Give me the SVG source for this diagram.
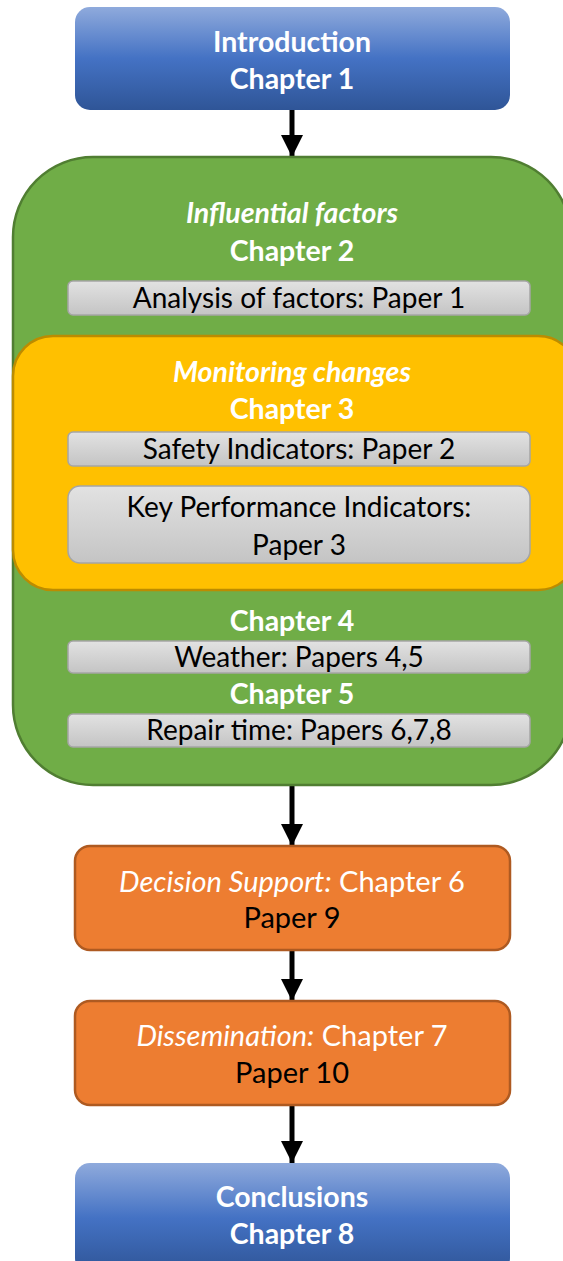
<svg xmlns="http://www.w3.org/2000/svg" width="563" height="1261" viewBox="0 0 563 1261">
  <defs>
    <linearGradient id="blueGrad" x1="0" y1="0" x2="0" y2="1">
      <stop offset="0" stop-color="#8faadc"/>
      <stop offset="0.5" stop-color="#4472c4"/>
      <stop offset="1" stop-color="#2f5597"/>
    </linearGradient>
    <linearGradient id="greyGrad" x1="0" y1="0" x2="0" y2="1">
      <stop offset="0" stop-color="#e2e2e2"/>
      <stop offset="1" stop-color="#c4c4c4"/>
    </linearGradient>
    <marker id="arrowHead" viewBox="0 0 22 22" refX="22" refY="11" markerWidth="22" markerHeight="22" markerUnits="userSpaceOnUse" orient="auto">
      <path d="M0,0 L22,11 L0,22 Z" fill="#000"/>
    </marker>
  </defs>
  <style>
    .blue { fill: url(#blueGrad); }
    .green { fill: #70ad47; stroke: #507e32; stroke-width: 2.5; }
    .yellow { fill: #ffc000; stroke: #bc8c00; stroke-width: 2.5; }
    .grey { fill: url(#greyGrad); stroke: #a5a5a5; stroke-width: 1.5; }
    .orange { fill: #ed7d31; stroke: #ae5a21; stroke-width: 2.5; }
    .conn { stroke: #000; stroke-width: 5; fill: none; marker-end: url(#arrowHead); }
    text { font-family: Lato, "Open Sans", "Liberation Sans", sans-serif; text-anchor: middle; font-size: 28.5px; }
    .head { fill: #fff; font-weight: bold; }
    .headi { fill: #fff; font-weight: bold; font-style: italic; }
    .body { fill: #000; font-size: 28px; }
    .orng { font-size: 29px; }
  </style>

  <!-- connectors -->
  <g id="connectors">
    <line class="conn" x1="292" y1="110" x2="292" y2="157"/>
    <line class="conn" x1="292" y1="786" x2="292" y2="846"/>
    <line class="conn" x1="292" y1="950" x2="292" y2="1001"/>
    <line class="conn" x1="292" y1="1105" x2="292" y2="1163"/>
  </g>

  <g id="introduction">
    <rect class="blue" x="75" y="7" width="435" height="103" rx="15"/>
    <text class="head" x="292" y="52">Introduction</text>
    <text class="head" x="292" y="89">Chapter 1</text>
  </g>

  <g id="influential-factors">
    <rect class="green" x="13" y="157" width="558" height="628" rx="80"/>
    <text class="headi" x="292" y="223">Influential factors</text>
    <text class="head" x="292" y="261">Chapter 2</text>
  </g>

  <g id="analysis-of-factors">
    <rect class="grey" x="68" y="281" width="462" height="34" rx="5"/>
    <text class="body" x="299" y="308">Analysis of factors: Paper 1</text>
  </g>

  <g id="monitoring-changes">
    <rect class="yellow" x="13" y="336" width="565" height="254" rx="40"/>
    <text class="headi" x="292" y="382">Monitoring changes</text>
    <text class="head" x="292" y="419">Chapter 3</text>
  </g>

  <g id="safety-indicators">
    <rect class="grey" x="68" y="432" width="462" height="34" rx="5"/>
    <text class="body" x="299" y="459">Safety Indicators: Paper 2</text>
  </g>

  <g id="key-performance-indicators">
    <rect class="grey" x="68" y="486" width="462" height="77" rx="12"/>
    <text class="body" x="299" y="517">Key Performance Indicators:</text>
    <text class="body" x="299" y="555">Paper 3</text>
  </g>

  <g id="chapter-4">
    <text class="head" x="292" y="631">Chapter 4</text>
    <rect class="grey" x="68" y="641" width="462" height="32" rx="5"/>
    <text class="body" x="299" y="667">Weather: Papers 4,5</text>
  </g>

  <g id="chapter-5">
    <text class="head" x="292" y="704">Chapter 5</text>
    <rect class="grey" x="68" y="714" width="462" height="33" rx="5"/>
    <text class="body" x="299" y="740">Repair time: Papers 6,7,8</text>
  </g>

  <g id="decision-support">
    <rect class="orange" x="75" y="846" width="435" height="104" rx="15"/>
    <text class="orng" x="292" y="892" fill="#fff"><tspan font-style="italic">Decision Support:</tspan> Chapter 6</text>
    <text class="orng" x="292" y="928" fill="#000">Paper 9</text>
  </g>

  <g id="dissemination">
    <rect class="orange" x="75" y="1001" width="435" height="104" rx="15"/>
    <text class="orng" x="292" y="1046" fill="#fff"><tspan font-style="italic">Dissemination:</tspan> Chapter 7</text>
    <text class="orng" x="292" y="1083" fill="#000">Paper 10</text>
  </g>

  <g id="conclusions">
    <rect class="blue" x="75" y="1163" width="435" height="110" rx="15"/>
    <text class="head" x="292" y="1207">Conclusions</text>
    <text class="head" x="292" y="1244">Chapter 8</text>
  </g>
</svg>
